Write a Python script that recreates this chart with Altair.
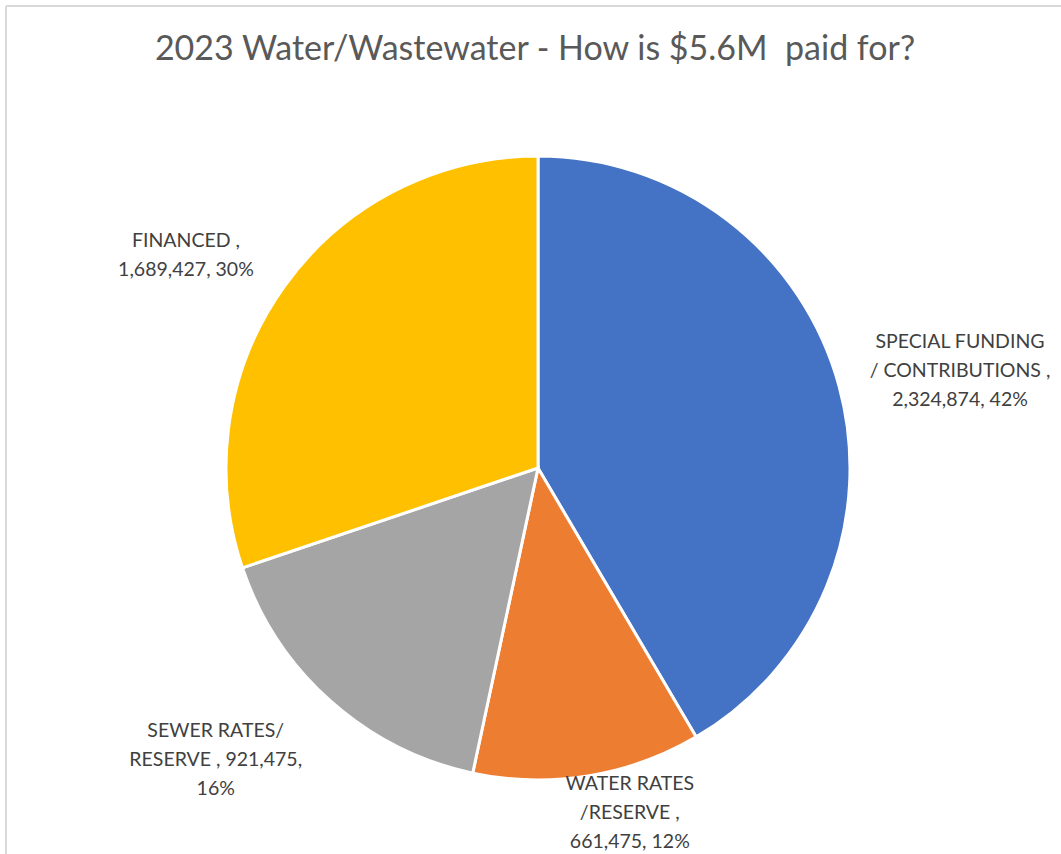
import math
import altair as alt
import pandas as pd

# ---- data ----
categories = ["SPECIAL FUNDING / CONTRIBUTIONS", "WATER RATES /RESERVE", "SEWER RATES/ RESERVE", "FINANCED"]
values = [2324874, 661475, 921475, 1689427]
label_lines = [
    ["SPECIAL FUNDING", "/ CONTRIBUTIONS ,", "2,324,874, 42%"],
    ["WATER RATES", "/RESERVE ,", "661,475, 12%"],
    ["SEWER RATES/", "RESERVE , 921,475,", "16%"],
    ["FINANCED ,", "1,689,427, 30%"],
]
colors = ["#4472C4", "#ED7D31", "#A5A5A5", "#FFC000"]
title_text = "2023 Water/Wastewater - How is $5.6M\u00a0 paid for?"

# ---- layout (pixels) ----
W, H = 1061, 854
CX, CY = 538, 468
R = 312
LINE_H = 29
label_radius = [433, 357, 435, 411]
label_angle_nudge = [2.3, -5.7, 6.1, -4.6]

total = sum(values)
rows = []
cum = 0.0
for i, (c, v) in enumerate(zip(categories, values)):
    start = cum / total * 360
    cum += v
    end = cum / total * 360
    mid = (start + end) / 2 + label_angle_nudge[i]
    a = math.radians(mid)
    n = len(label_lines[i])
    lx = CX + label_radius[i] * math.sin(a)
    ly = CY - label_radius[i] * math.cos(a) - (n - 1) * LINE_H / 2
    rows.append({"cat": c, "value": v, "idx": i, "label": "\n".join(label_lines[i]), "lx": lx, "ly": ly})
df = pd.DataFrame(rows)
one = pd.DataFrame({"a": [0]})

border_left = alt.Chart(one).mark_rule(color="#D9D9D9", strokeWidth=2).encode(
    x=alt.value(6), y=alt.value(6), y2=alt.value(H + 10)
)
border_top = alt.Chart(one).mark_rule(color="#D9D9D9", strokeWidth=2).encode(
    y=alt.value(6), x=alt.value(6), x2=alt.value(W + 10)
)

pie = alt.Chart(df).mark_arc(stroke="white", strokeWidth=3).encode(
    theta=alt.Theta("value:Q", stack=True),
    color=alt.Color("cat:N", scale=alt.Scale(domain=categories, range=colors), legend=None),
    order=alt.Order("idx:Q"),
    x=alt.value(CX),
    y=alt.value(CY),
    radius=alt.value(R),
)

labels = alt.Chart(df).mark_text(
    font="Lato", fontSize=19.5, color="#404040", align="center", baseline="middle",
    lineBreak="\n", lineHeight=LINE_H,
).encode(
    x=alt.X("lx:Q", scale=None),
    y=alt.Y("ly:Q", scale=None),
    text="label:N",
)

title = alt.Chart(pd.DataFrame({"t": [title_text]})).mark_text(
    font="Lato", fontSize=34, color="#595959", align="center", baseline="middle",
).encode(
    x=alt.value(535),
    y=alt.value(50),
    text="t:N",
)

chart = alt.layer(border_left, border_top, pie, labels, title).properties(
    width=W, height=H,
    autosize=alt.AutoSizeParams(type="none"),
    padding=0,
).configure_view(stroke=None)

chart.save("out.html", embed_options={"renderer": "svg", "actions": False})
